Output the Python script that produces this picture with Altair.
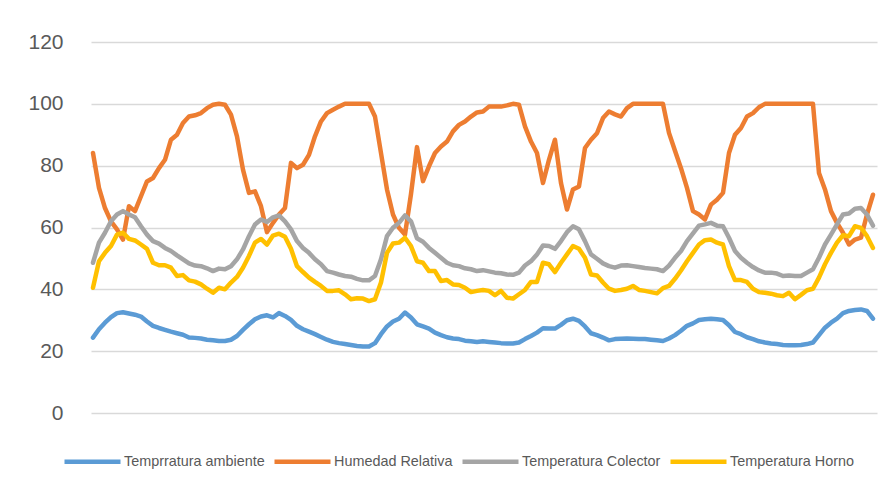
import altair as alt
import pandas as pd

series_names = ["Temprratura ambiente", "Humedad Relativa", "Temperatura Colector", "Temperatura Horno"]
colors = ["#5B9BD5", "#ED7D31", "#A5A5A5", "#FFC000"]
y_ticks = [0, 20, 40, 60, 80, 100, 120]

ambiente = [
    24.4, 27.1, 29.2, 31.0, 32.3, 32.6, 32.2, 31.8, 31.2, 29.6, 28.2, 27.5, 26.9, 26.3, 25.8, 25.3, 24.4, 24.3, 24.1, 23.7, 23.5, 23.3,
    23.3, 23.7, 24.9, 26.9, 28.7, 30.3, 31.2, 31.6, 30.9, 32.3, 31.4, 30.1, 28.2, 27.1, 26.3, 25.5, 24.6, 23.7, 23.0, 22.6, 22.3,
    22.0, 21.7, 21.5, 21.5, 22.6, 25.5, 28.0, 29.6, 30.5, 32.5, 30.9, 28.7, 28.0, 27.3, 26.0, 25.2, 24.5, 24.1, 23.9, 23.4, 23.2, 23.0,
    23.2, 23.0, 22.8, 22.6, 22.5, 22.5, 22.8, 23.9, 24.9, 26.0, 27.4, 27.3, 27.3, 28.5, 30.0, 30.5, 29.8, 28.0, 25.8, 25.2, 24.4, 23.5,
    23.9, 24.0, 24.1, 24.0, 23.9, 23.9, 23.7, 23.5, 23.3, 24.1, 25.2, 26.6, 28.2, 29.0, 30.1, 30.3, 30.5, 30.3, 30.1, 28.4, 26.2,
    25.5, 24.5, 23.9, 23.2, 22.8, 22.5, 22.3, 22.0, 21.9, 21.9, 22.0, 22.3, 22.8, 25.2, 27.6, 29.2, 30.5, 32.3, 33.0, 33.3, 33.5, 33.0, 30.5,
]

humedad = [
    84.1, 72.8, 66.3, 62.0, 59.4, 56.1, 66.9, 65.3, 70.1, 74.9, 76.0, 79.2, 81.9, 88.4, 90.0, 93.8, 95.9, 96.3, 97.0, 98.6, 99.7, 100,
    99.7, 96.5, 89.5, 78.7, 71.2, 71.7, 66.9, 58.5, 61.5, 64.2, 66.3, 80.9, 79.2, 80.3, 83.5, 89.5, 94.3, 97.0, 98.1, 99.1, 100,
    100, 100, 100, 100, 95.9, 84.1, 72.3, 64.2, 59.9, 57.7, 70.8, 86.0, 75.0, 79.8, 84.1, 86.2, 87.8, 91.1, 93.2, 94.3, 95.9, 97.2,
    97.5, 99.1, 99.1, 99.1, 99.5, 100, 99.7, 92.7, 87.8, 84.1, 74.4, 81.9, 88.4, 74.4, 65.8, 72.3, 73.3, 85.7, 88.4, 90.5, 95.4, 97.5,
    96.6, 95.9, 98.6, 100, 100, 100, 100, 100, 100, 90.6, 84.8, 79.2, 72.8, 65.3, 64.2, 62.6, 67.4, 69.0, 71.2, 84.1, 90.0,
    92.2, 95.9, 97.0, 98.9, 100, 100, 100, 100, 100, 100, 100, 100, 100, 77.6, 72.3, 65.3, 61.5, 58.3, 54.5, 56.1, 56.7, 64.2, 70.6,
]

colector = [
    48.6, 55.1, 58.3, 62.0, 64.2, 65.3, 64.2, 63.3, 60.4, 57.7, 55.6, 54.8, 53.4, 52.4, 51.0, 49.7, 48.4, 47.7, 47.5, 46.8, 45.9, 46.7,
    46.5, 47.5, 49.7, 52.9, 57.2, 61.0, 62.6, 61.8, 63.3, 63.9, 62.0, 59.4, 55.6, 53.4, 51.8, 49.7, 48.1, 45.9, 45.4, 44.8, 44.3,
    44.1, 43.4, 42.9, 42.9, 44.3, 49.7, 57.2, 59.9, 61.5, 63.9, 62.0, 56.5, 55.4, 53.4, 51.8, 50.2, 48.6, 47.8, 47.5, 46.8, 46.5, 45.9,
    46.2, 45.8, 45.4, 45.2, 44.8, 44.7, 45.4, 47.7, 49.1, 51.3, 54.2, 54.0, 53.1, 55.6, 58.5, 60.4, 59.4, 55.6, 51.3, 49.9, 48.4, 47.5,
    47.0, 47.7, 47.8, 47.5, 47.2, 46.9, 46.7, 46.5, 45.9, 47.7, 50.2, 52.4, 55.6, 58.1, 60.6, 61.0, 61.5, 60.6, 60.4, 56.7, 52.4,
    50.2, 48.6, 47.2, 46.1, 45.4, 45.4, 45.1, 44.3, 44.5, 44.3, 44.3, 45.4, 46.5, 50.2, 54.5, 57.7, 61.0, 64.2, 64.5, 66.1, 66.3, 64.2, 60.6,
]

horno = [
    40.5, 49.1, 51.8, 54.0, 57.7, 58.3, 56.3, 55.8, 54.5, 53.1, 48.6, 47.8, 47.8, 47.0, 44.3, 44.6, 42.9, 42.5, 41.6, 40.2, 38.9, 40.5,
    40.0, 42.2, 44.0, 47.0, 50.8, 55.1, 56.3, 54.5, 57.4, 58.0, 57.0, 53.1, 47.5, 45.6, 43.8, 42.4, 41.1, 39.5, 39.5, 39.7, 38.4,
    36.8, 37.1, 37.0, 36.2, 36.8, 42.2, 51.8, 54.8, 55.1, 56.7, 54.0, 49.1, 48.6, 45.9, 45.9, 42.7, 43.0, 41.6, 41.4, 40.5, 39.1, 39.5,
    39.8, 39.5, 38.1, 39.5, 37.3, 37.0, 38.4, 39.8, 42.4, 42.4, 48.6, 48.1, 45.6, 48.6, 51.3, 54.0, 53.1, 50.2, 44.8, 44.5, 42.2, 40.2,
    39.5, 39.8, 40.2, 41.1, 39.8, 39.5, 39.1, 38.7, 40.4, 41.1, 43.4, 46.1, 49.1, 51.8, 54.5, 55.9, 56.1, 55.1, 54.5, 47.5, 43.0,
    43.0, 42.4, 40.2, 39.1, 38.9, 38.6, 38.1, 37.8, 38.9, 36.8, 38.2, 39.7, 40.2, 43.8, 48.1, 51.8, 55.1, 57.5, 57.2, 60.4, 59.9, 57.2, 53.4,
]

rows = []
for name, vals in zip(series_names, [ambiente, humedad, colector, horno]):
    for i, v in enumerate(vals):
        rows.append({"idx": i, "value": v, "serie": name})
df = pd.DataFrame(rows)

n = len(ambiente)

chart = alt.Chart(df).mark_line(strokeWidth=4.5, strokeJoin="round", strokeCap="round").encode(
    x=alt.X("idx:Q", scale=alt.Scale(domain=[-0.33, n - 1 + 0.67], nice=False, zero=False), axis=None),
    y=alt.Y(
        "value:Q",
        scale=alt.Scale(domain=[0, 120], nice=False),
        axis=alt.Axis(
            values=y_ticks,
            title=None,
            domain=False,
            ticks=False,
            labelFontSize=21,
            labelFont="Liberation Sans",
            labelColor="#595959",
            labelPadding=28,
            gridColor="#D9D9D9",
            gridWidth=1.5,
        ),
    ),
    color=alt.Color(
        "serie:N",
        sort=series_names,
        scale=alt.Scale(domain=series_names, range=colors),
        legend=alt.Legend(
            orient="none",
            legendX=-29,
            legendY=389,
            direction="horizontal",
            title=None,
            symbolType="stroke",
            symbolSize=3136,
            symbolStrokeWidth=4.5,
            labelFontSize=14.4,
            labelFont="Liberation Sans",
            labelColor="#595959",
            columnPadding=0,
            labelOffset=1,
            labelLimit=400,
        ),
    ),
).properties(
    width=786,
    height=371,
    autosize="none",
    padding={"left": 83, "top": 34, "right": 5, "bottom": 60},
).configure_view(strokeWidth=0)

chart.save("out.html", embed_options={"renderer": "svg", "actions": False})
